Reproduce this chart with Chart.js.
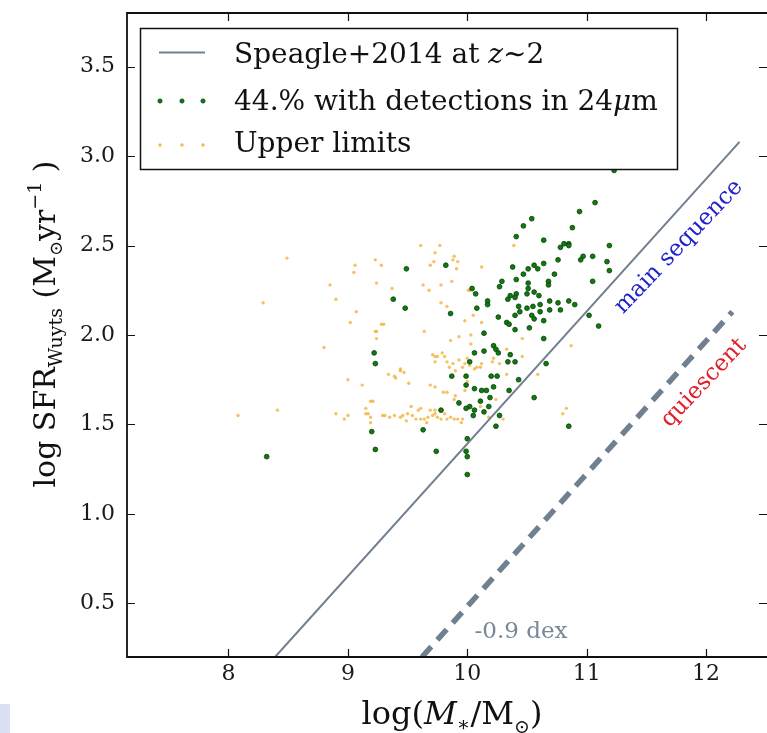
<!DOCTYPE html>
<html>
<head>
<meta charset="utf-8">
<script src="https://cdn.jsdelivr.net/npm/chart.js@4.4.1/dist/chart.umd.min.js"></script>
<style>
html, body { margin: 0; padding: 0; background: #fff; }
</style>
</head>
<body>
<canvas id="sfr" width="767" height="733"></canvas>
<script>
// detected in 24um (green)
var greenMass = [11.23,11.07,10.94,10.54,10.47,10.88,10.41,10.64,10.78,10.81,10.85,10.85,11.19,9.82,9.49,10.97,10.95,11.05,10.76,11.17,11.19,10.64,10.38,10.51,10.56,10.59,10.47,10.73,10.41,10.29,10.27,10.68,10.68,11.05,10.51,10.04,10.07,10.36,10.41,10.40,10.51,10.50,10.56,10.60,10.17,10.17,10.34,10.43,10.50,10.55,10.61,10.69,10.76,10.85,10.90,10.08,9.86,10.26,10.33,10.35,10.40,10.44,10.40,10.54,10.56,10.61,10.64,10.52,10.69,10.78,11.02,11.10,10.14,10.64,9.38,9.48,9.22,9.23,10.06,10.14,10.22,10.24,10.26,10.36,10.02,10.34,10.40,10.66,9.87,9.99,10.20,10.25,10.43,9.99,10.06,10.12,10.16,10.22,10.35,10.56,9.93,10.11,10.19,10.18,10.02,9.99,10.06,9.78,10.14,10.05,10.27,10.24,10.85,9.63,9.20,10.00,9.23,9.74,9.99,10.00,8.32,10.00];
var greenSfr = [2.92,2.74,2.69,2.65,2.61,2.60,2.55,2.53,2.49,2.51,2.51,2.50,2.50,2.39,2.37,2.44,2.42,2.44,2.42,2.41,2.36,2.40,2.38,2.37,2.39,2.37,2.34,2.34,2.31,2.30,2.27,2.30,2.28,2.30,2.29,2.26,2.23,2.22,2.23,2.21,2.26,2.23,2.24,2.22,2.19,2.17,2.20,2.16,2.15,2.16,2.17,2.19,2.18,2.19,2.17,2.15,2.12,2.10,2.07,2.06,2.03,2.13,2.11,2.11,2.09,2.13,2.08,2.04,2.14,2.14,2.11,2.05,2.01,1.98,2.20,2.15,1.90,1.84,1.90,1.91,1.94,1.92,1.90,1.89,1.85,1.85,1.85,1.84,1.77,1.77,1.77,1.77,1.75,1.72,1.70,1.69,1.69,1.71,1.69,1.65,1.62,1.63,1.65,1.60,1.60,1.59,1.58,1.58,1.57,1.55,1.55,1.49,1.49,1.47,1.46,1.42,1.36,1.35,1.35,1.32,1.32,1.22];

// upper limits (orange)
var upperMass = [8.49,9.06,9.05,8.85,8.29,8.90,9.07,9.02,8.80,9.00,9.12,8.08,8.41,8.90,9.00,8.97,9.19,9.21,9.15,9.15,9.19,9.61,9.23,9.28,9.24,9.37,9.63,9.68,9.28,9.30,9.24,9.24,9.64,9.71,9.73,9.34,9.44,9.47,9.51,9.40,9.31,9.39,9.44,9.46,9.54,9.57,9.61,9.64,9.61,9.69,9.73,9.73,9.69,9.53,9.77,9.73,9.72,9.69,9.88,9.92,9.91,9.78,9.87,10.01,9.78,9.83,9.98,9.23,9.86,9.93,10.03,9.75,9.79,9.81,9.83,9.88,9.90,9.96,9.98,9.39,9.44,9.73,9.80,9.83,9.90,9.89,9.98,9.29,9.49,9.59,9.67,9.71,9.73,9.75,9.78,9.83,9.86,9.89,9.92,9.96,9.17,9.19,10.00,10.05,10.12,10.46,10.03,10.00,10.02,10.06,10.08,10.11,10.12,10.22,10.21,10.27,10.33,10.46,10.33,10.59,10.87,10.24,10.80,10.11,10.18,10.30,10.83,10.39,10.12,9.89,10.02,9.35,9.50,9.66,9.81,9.95,9.85,9.93];
var upperSfr = [2.43,2.39,2.35,2.28,2.18,2.20,2.13,2.07,1.93,1.75,1.72,1.55,1.58,1.56,1.55,1.53,1.63,1.63,1.59,1.56,1.51,2.50,2.42,2.39,2.29,2.26,2.28,2.25,2.06,2.06,2.02,1.98,2.02,1.89,1.88,1.78,1.81,1.79,1.73,1.76,1.55,1.55,1.54,1.55,1.55,1.53,1.53,1.53,1.59,1.58,1.56,1.85,1.72,1.60,2.50,2.46,2.41,2.39,2.42,2.41,2.37,2.28,2.30,2.25,2.18,2.16,2.08,2.02,1.97,1.99,2.00,1.88,1.90,1.88,1.85,1.84,1.80,1.82,1.84,1.77,1.80,1.71,1.68,1.68,1.66,1.64,1.69,1.55,1.52,1.58,1.54,1.55,1.58,1.54,1.53,1.53,1.54,1.53,1.53,1.53,1.56,1.54,1.74,2.11,2.07,1.98,1.95,1.87,1.83,1.81,1.82,1.82,1.84,1.87,1.85,1.84,1.92,1.88,1.78,1.78,1.94,1.64,1.56,1.60,1.54,1.53,1.59,2.50,2.38,2.44,2.25,1.54,1.56,1.51,1.56,1.51,1.82,1.86];

// Speagle+2014 main sequence and the -0.9 dex line (end points)
var msMass = [8.39, 12.28];
var msSfr = [0.2, 3.08];
var quiMass = [9.62, 12.22];
var quiSfr = [0.2, 2.13];

var xTicks = [8, 9, 10, 11, 12];
var yTicks = [0.5, 1.0, 1.5, 2.0, 2.5, 3.0, 3.5];

var SERIF = "'DejaVu Serif', serif";
var GREY = '#708090';

function pts(xs, ys) {
    return xs.map(function (v, i) { return { x: v, y: ys[i] }; });
}

// draws a run of text pieces (normal / italic / sub / sup) centred on 0,0
function richText(ctx, parts, align) {
    var w = 0;
    parts.forEach(function (p) {
        ctx.font = (p.it ? 'italic ' : '') + p.sz + 'px ' + SERIF;
        p.w = ctx.measureText(p.t).width;
        w += p.w;
    });
    var x = align === 'left' ? 0 : -w / 2;
    ctx.textAlign = 'left';
    ctx.textBaseline = 'alphabetic';
    parts.forEach(function (p) {
        ctx.font = (p.it ? 'italic ' : '') + p.sz + 'px ' + SERIF;
        ctx.fillText(p.t, x, p.dy || 0);
        x += p.w;
    });
}

function dot(ctx, x, y, r, fill, edge) {
    ctx.beginPath();
    ctx.arc(x, y, r, 0, Math.PI * 2);
    ctx.fillStyle = fill;
    ctx.fill();
    if (edge) { ctx.lineWidth = 0.8; ctx.strokeStyle = edge; ctx.stroke(); }
}

var decorations = {
    id: 'decorations',
    beforeDraw: function (chart) {
        var ctx = chart.ctx;
        ctx.save();
        ctx.fillStyle = '#dbe1f2';
        ctx.fillRect(0, 704, 10, 29);
        ctx.restore();
    },
    afterDatasetsDraw: function (chart) {
        var ctx = chart.ctx, a = chart.chartArea;
        var xs = chart.scales.x, ys = chart.scales.y;
        ctx.save();

        // text annotations
        ctx.fillStyle = '#2222cc';
        ctx.translate(xs.getPixelForValue(11.76), ys.getPixelForValue(2.50));
        ctx.rotate(-46.5 * Math.PI / 180);
        richText(ctx, [{ t: 'main sequence', sz: 23, dy: 8 }]);
        ctx.setTransform(1, 0, 0, 1, 0, 0);

        ctx.fillStyle = '#e0202a';
        ctx.translate(xs.getPixelForValue(11.97), ys.getPixelForValue(1.74));
        ctx.rotate(-46.5 * Math.PI / 180);
        richText(ctx, [{ t: 'quiescent', sz: 23, dy: 8 }]);
        ctx.setTransform(1, 0, 0, 1, 0, 0);

        ctx.fillStyle = '#778899';
        ctx.translate(xs.getPixelForValue(10.45), ys.getPixelForValue(0.35));
        richText(ctx, [{ t: '-0.9 dex', sz: 23, dy: 8 }]);
        ctx.setTransform(1, 0, 0, 1, 0, 0);

        // frame (right side falls off the picture) + inward ticks
        ctx.strokeStyle = '#111';
        ctx.lineWidth = 1.2;
        xTicks.forEach(function (v) {
            var p = Math.round(xs.getPixelForValue(v)) + 0.5;
            ctx.beginPath();
            ctx.moveTo(p, a.bottom); ctx.lineTo(p, a.bottom - 8);
            ctx.moveTo(p, a.top); ctx.lineTo(p, a.top + 8);
            ctx.stroke();
        });
        yTicks.forEach(function (v) {
            var p = Math.round(ys.getPixelForValue(v)) + 0.5;
            ctx.beginPath();
            ctx.moveTo(a.left, p); ctx.lineTo(a.left + 8, p);
            ctx.moveTo(767, p); ctx.lineTo(759, p);
            ctx.stroke();
        });
        ctx.lineWidth = 1.8;
        ctx.beginPath();
        ctx.moveTo(767, a.top); ctx.lineTo(a.left, a.top);
        ctx.lineTo(a.left, a.bottom); ctx.lineTo(767, a.bottom);
        ctx.stroke();

        // legend box
        ctx.fillStyle = '#fff';
        ctx.fillRect(140, 28, 537, 141);
        ctx.lineWidth = 1.5;
        ctx.strokeStyle = '#111';
        ctx.strokeRect(140.5, 28.5, 537, 141);

        ctx.strokeStyle = GREY;
        ctx.lineWidth = 2;
        ctx.beginPath(); ctx.moveTo(159, 52.5); ctx.lineTo(205, 52.5); ctx.stroke();
        [160, 182, 203].forEach(function (x) {
            dot(ctx, x, 101, 2.1, '#0b7d0b', '#0b3b0b');
            dot(ctx, x, 145, 1.7, 'rgba(243,172,45,0.85)');
        });

        ctx.fillStyle = '#111';
        ctx.translate(234, 63);
        richText(ctx, [{ t: 'Speagle+2014 at ', sz: 28 }, { t: 'z', sz: 28, it: true }, { t: '\u223C2', sz: 28 }], 'left');
        ctx.setTransform(1, 0, 0, 1, 0, 0);
        ctx.translate(234, 110);
        richText(ctx, [{ t: '44.% with detections in 24', sz: 28 }, { t: '\u03BC', sz: 28, it: true }, { t: 'm', sz: 28 }], 'left');
        ctx.setTransform(1, 0, 0, 1, 0, 0);
        ctx.translate(234, 152);
        richText(ctx, [{ t: 'Upper limits', sz: 28 }], 'left');
        ctx.setTransform(1, 0, 0, 1, 0, 0);

        ctx.restore();
    },
    afterDraw: function (chart) {
        var ctx = chart.ctx;
        ctx.save();
        ctx.fillStyle = '#111';
        // x title
        ctx.translate(452, 724);
        richText(ctx, [
            { t: 'log(', sz: 32 }, { t: 'M', sz: 32, it: true }, { t: '\u2217', sz: 20, dy: 7 },
            { t: '/M', sz: 32 }, { t: '\u2299', sz: 19, dy: 9 }, { t: ')', sz: 32 }
        ]);
        ctx.setTransform(1, 0, 0, 1, 0, 0);
        // y title
        ctx.translate(55, 324);
        ctx.rotate(-Math.PI / 2);
        richText(ctx, [
            { t: 'log SFR', sz: 30 }, { t: 'Wuyts', sz: 19, dy: 7 }, { t: ' (M', sz: 30 },
            { t: '\u2299', sz: 18, dy: 7 }, { t: 'yr', sz: 30 }, { t: '\u22121', sz: 19, dy: -14 }, { t: ' )', sz: 30 }
        ]);
        ctx.restore();
    }
};

var ctx = document.getElementById('sfr');

var chart = new Chart(ctx, {
    type: 'scatter',
    data: {
        datasets: [
            {
                type: 'line',
                label: 'Speagle+2014 at z~2',
                data: pts(msMass, msSfr),
                borderColor: GREY,
                borderWidth: 2,
                pointRadius: 0,
                fill: false
            },
            {
                type: 'line',
                label: '-0.9 dex',
                data: pts(quiMass, quiSfr),
                borderColor: GREY,
                borderWidth: 5.5,
                borderDash: [14, 9],
                pointRadius: 0,
                fill: false
            },
            {
                label: '44.% with detections in 24\u03BCm',
                data: pts(greenMass, greenSfr),
                pointRadius: 2.4,
                backgroundColor: '#0b7d0b',
                borderColor: '#0b3b0b',
                borderWidth: 0.8
            },
            {
                label: 'Upper limits',
                data: pts(upperMass, upperSfr),
                pointRadius: 1.7,
                backgroundColor: 'rgba(243,172,45,0.75)',
                borderWidth: 0
            }
        ]
    },
    options: {
        responsive: false,
        animation: false,
        layout: { padding: { top: 13, right: 0, left: 0, bottom: 0 } },
        plugins: {
            legend: { display: false },
            tooltip: { enabled: false }
        },
        scales: {
            x: {
                type: 'linear',
                min: 7.15,
                max: 12.47,
                grid: { display: false, drawTicks: false },
                border: { display: false },
                ticks: { font: { family: SERIF, size: 22 }, color: '#1a1a1a', padding: 4 },
                afterBuildTicks: function (s) { s.ticks = xTicks.map(function (v) { return { value: v }; }); },
                afterFit: function (s) { s.height = 76; s.paddingLeft = 0; s.paddingRight = 0; }
            },
            y: {
                type: 'linear',
                min: 0.2,
                max: 3.8,
                grid: { display: false, drawTicks: false },
                border: { display: false },
                ticks: {
                    font: { family: SERIF, size: 22 }, color: '#1a1a1a', padding: 12,
                    callback: function (v) { return v.toFixed(1); }
                },
                afterBuildTicks: function (s) { s.ticks = yTicks.map(function (v) { return { value: v }; }); },
                afterFit: function (s) { s.width = 127; s.paddingTop = 0; s.paddingBottom = 0; }
            }
        }
    },
    plugins: [decorations]
});
</script>
</body>
</html>
